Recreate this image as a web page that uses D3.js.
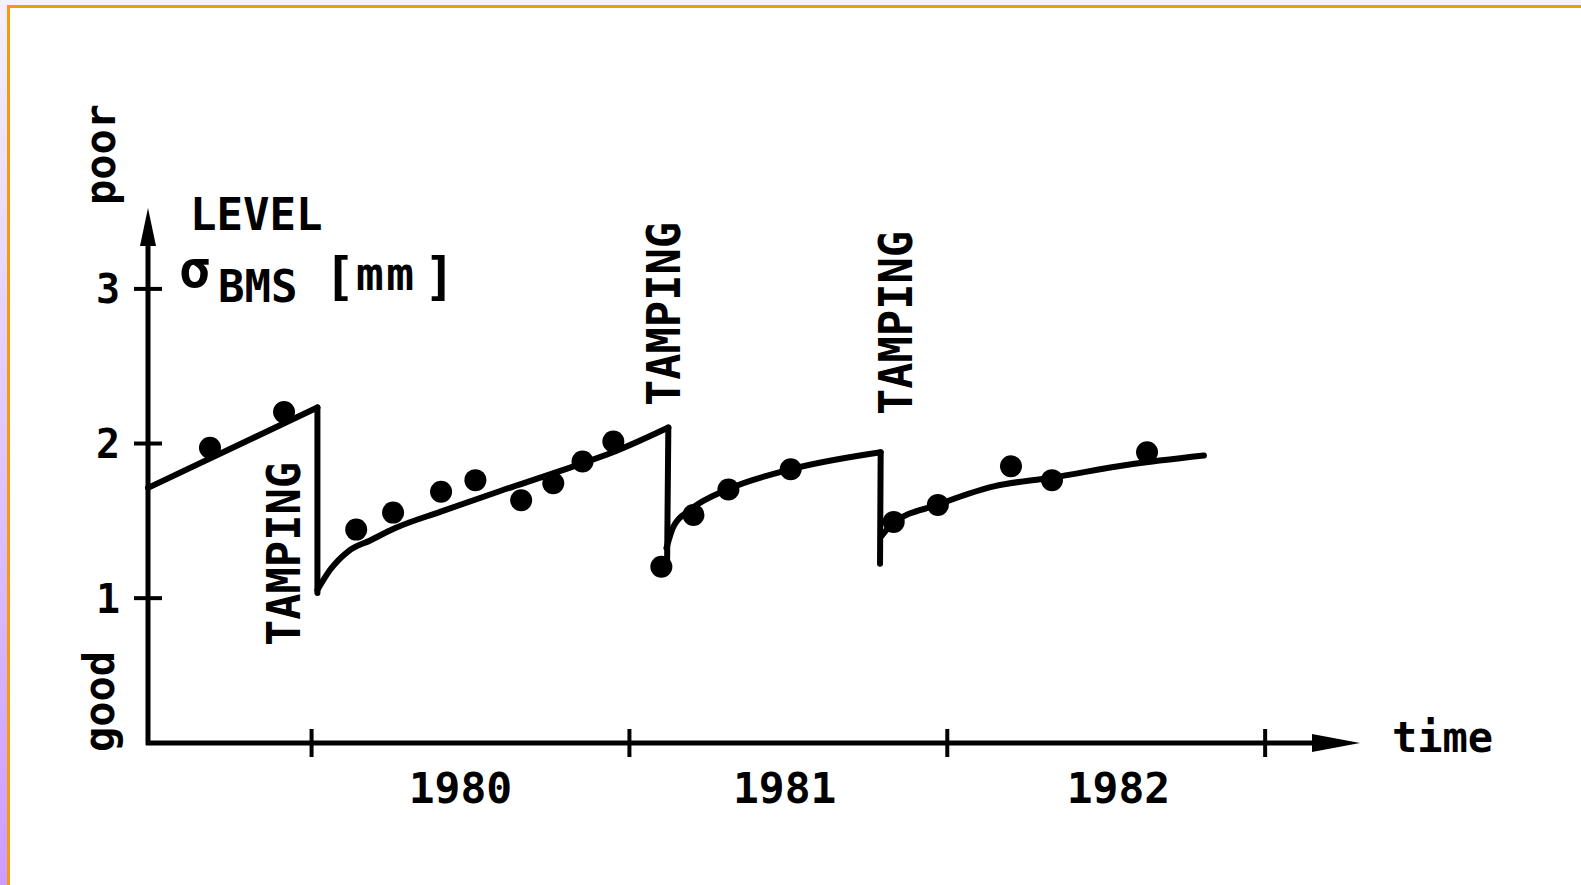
<!DOCTYPE html>
<html lang="en">
<head>
<meta charset="utf-8"/>
<style>
  body { margin: 0; background: #ffffff; }
  svg { display: block; }
  .mono { font-family: "DejaVu Sans Mono", monospace; font-weight: bold; fill: #000; }
</style>
</head>
<body>
<svg id="chart" width="1581" height="885"></svg>

<script src="https://d3js.org/d3.v7.min.js"></script>
<script>
// fitted curve, one piece per period between tampings (time in years, sigma in mm)
let lineT1 = [1979.487, 1980.02]
let lineV1 = [1.71, 2.23]
let lineT2 = [1980.02, 1980.06, 1980.117, 1980.186, 1980.265, 1980.406, 1980.595, 1980.784, 1980.973, 1981.124]
let lineV2 = [1.05, 1.18, 1.30, 1.37, 1.45, 1.555, 1.69, 1.82, 1.96, 2.10]
let lineT3 = [1981.118, 1981.14, 1981.194, 1981.31, 1981.509, 1981.792]
let lineV3 = [1.32, 1.46, 1.57, 1.70, 1.83, 1.94]
let lineT4 = [1981.795, 1981.83, 1981.97, 1982.148, 1982.328, 1982.57, 1982.809]
let lineV4 = [1.40, 1.48, 1.60, 1.72, 1.775, 1.86, 1.92]

// vertical drops at each tamping
let tampingT = [1980.02, 1981.12, 1981.79]
let dropHigh = [2.23, 2.10, 1.94]
let dropLow = [1.03, 1.20, 1.22]

// measured points
let dotT = [1979.682, 1979.915, 1980.142, 1980.258, 1980.409, 1980.517, 1980.661, 1980.762, 1980.854, 1980.951,
            1981.102, 1981.203, 1981.313, 1981.509, 1981.833, 1981.972, 1982.202, 1982.331, 1982.630]
let dotV = [1.97, 2.20, 1.44, 1.55, 1.685, 1.76, 1.63, 1.74, 1.88, 2.01,
            1.20, 1.535, 1.70, 1.83, 1.49, 1.60, 1.85, 1.76, 1.94]

// axes
let yearTicks = [1980, 1981, 1982, 1983]
let yearLabels = ["1980", "1981", "1982"]
let yearLabelAt = [1980.47, 1981.49, 1982.54]
let levelTicks = [1, 2, 3]

let svg = d3.select("#chart")
let width = 1581, height = 885

// page frame: lavender strips + orange rule
let defs = svg.append("defs")
let grad = defs.append("linearGradient").attr("id", "side").attr("x1", 0).attr("y1", 0).attr("x2", 0).attr("y2", 1)
grad.append("stop").attr("offset", "0%").attr("stop-color", "#f4f0fc")
grad.append("stop").attr("offset", "100%").attr("stop-color", "#cc9cff")
svg.append("rect").attr("x", 0).attr("y", 0).attr("width", width).attr("height", 5).attr("fill", "#f4f0fc")
svg.append("rect").attr("x", 0).attr("y", 0).attr("width", 7).attr("height", height).attr("fill", "url(#side)")
svg.append("rect").attr("x", 7).attr("y", 5).attr("width", width - 7).attr("height", 3).attr("fill", "#f49a10")
svg.append("rect").attr("x", 7).attr("y", 5).attr("width", 3).attr("height", height - 5).attr("fill", "#f49a10")

let x = d3.scaleLinear().domain([1979.487, 1983.30]).range([148, 1360])
let y = d3.scaleLinear().domain([0.06, 3.52]).range([743, 208])

let x0 = x.range()[0], y0 = y.range()[0]
let xTip = x.range()[1], yTip = y.range()[1]

// axis lines with arrow heads
svg.append("line").attr("x1", x0 - 2).attr("y1", y0).attr("x2", xTip - 44).attr("y2", y0)
   .attr("stroke", "#000").attr("stroke-width", 5)
svg.append("path").attr("d", `M${xTip - 48},${y0 - 9} L${xTip},${y0} L${xTip - 48},${y0 + 9} Z`).attr("fill", "#000")
svg.append("line").attr("x1", x0).attr("y1", y0 + 2).attr("x2", x0).attr("y2", yTip + 34)
   .attr("stroke", "#000").attr("stroke-width", 5)
svg.append("path").attr("d", `M${x0 - 8},${yTip + 38} L${x0},${yTip} L${x0 + 8},${yTip + 38} Z`).attr("fill", "#000")

let xAxis = svg.append("g")
    .attr("transform", `translate(0,${y0})`)
    .call(d3.axisBottom(x).tickValues(yearTicks).tickFormat("").tickSize(14).tickSizeOuter(0))
xAxis.select(".domain").remove()
xAxis.selectAll(".tick line").attr("y1", -14).attr("y2", 14).attr("stroke-width", 4).attr("stroke", "#000")

let yAxis = svg.append("g")
    .attr("transform", `translate(${x0},0)`)
    .call(d3.axisLeft(y).tickValues(levelTicks).tickFormat(d3.format("d")).tickSize(14).tickPadding(14).tickSizeOuter(0))
yAxis.select(".domain").remove()
yAxis.selectAll(".tick line").attr("x1", 14).attr("x2", -14).attr("stroke-width", 4).attr("stroke", "#000")
yAxis.selectAll(".tick text").attr("class", "mono").attr("font-size", 40).attr("dy", "0.36em")

svg.selectAll(".year")
    .data(yearLabels)
    .enter()
    .append("text")
    .attr("class", "mono year")
    .attr("font-size", 43)
    .attr("text-anchor", "middle")
    .attr("x", (d, i) => x(yearLabelAt[i]))
    .attr("y", y0 + 60)
    .text(d => d)

svg.append("text").attr("class", "mono").attr("font-size", 42)
   .attr("x", xTip + 32).attr("y", y0 + 9).text("time")

// y axis caption
svg.append("text").attr("class", "mono").attr("font-size", 42)
   .attr("transform", `translate(${x0 - 33},${yTip - 3}) rotate(-90)`).text("poor")
svg.append("text").attr("class", "mono").attr("font-size", 42)
   .attr("transform", `translate(${x0 - 34},${y0 + 9}) rotate(-90)`).text("good")

svg.append("text").attr("class", "mono").attr("font-size", 44)
   .attr("x", x0 + 42).attr("y", yTip + 22).text("LEVEL")
let unit = svg.append("text").attr("class", "mono")
unit.append("tspan").attr("x", x0 + 31).attr("y", yTip + 79).attr("font-size", 52).text("σ")
unit.append("tspan").attr("x", x0 + 70).attr("y", yTip + 94).attr("font-size", 44).text("BMS")
unit.append("tspan").attr("x", x0 + 176).attr("y", yTip + 86).attr("font-size", 52).text("[")
unit.append("tspan").attr("x", x0 + 208).attr("y", yTip + 82).attr("font-size", 46).attr("textLength", 58).text("mm")
unit.append("tspan").attr("x", x0 + 276).attr("y", yTip + 86).attr("font-size", 52).text("]")

// the fitted line
let times = [lineT1, lineT2, lineT3, lineT4]
let vals = [lineV1, lineV2, lineV3, lineV4]
let pieces = times.map((ts, k) => ts.map((t, i) => [t, vals[k][i]]))

let curve = d3.line()
    .x(d => x(d[0]))
    .y(d => y(d[1]))
    .curve(d3.curveMonotoneX)
let straight = d3.line()
    .x(d => x(d[0]))
    .y(d => y(d[1]))

svg.selectAll(".piece")
    .data(pieces)
    .enter()
    .append("path")
    .attr("class", "piece")
    .attr("d", curve)
    .attr("fill", "none")
    .attr("stroke", "#000")
    .attr("stroke-width", 6)
    .attr("stroke-linecap", "round")

// drop: from the end of one piece straight down to the low point
let drops = tampingT.map((t, k) => {
    let p = pieces[k]
    return [p[p.length - 1], [t, dropLow[k]]]
})
svg.selectAll(".drop")
    .data(drops)
    .enter()
    .append("path")
    .attr("class", "drop")
    .attr("d", straight)
    .attr("fill", "none")
    .attr("stroke", "#000")
    .attr("stroke-width", 6)
    .attr("stroke-linecap", "round")

svg.selectAll(".dot")
    .data(dotT)
    .enter()
    .append("circle")
    .attr("class", "dot")
    .attr("cx", d => x(d))
    .attr("cy", (d, i) => y(dotV[i]))
    .attr("r", 11)
    .attr("fill", "#000")

// TAMPING labels, first one left of the drop, the others right of it
let tampOffset = [[-17, 646], [13, 406], [32, 415]]
svg.selectAll(".tamp")
    .data(tampingT)
    .enter()
    .append("text")
    .attr("class", "mono tamp")
    .attr("font-size", 46)
    .attr("textLength", 184)
    .attr("lengthAdjust", "spacingAndGlyphs")
    .attr("transform", (d, i) => `translate(${x(d) + tampOffset[i][0]},${tampOffset[i][1]}) rotate(-90)`)
    .text("TAMPING")
</script>
</body>
</html>
